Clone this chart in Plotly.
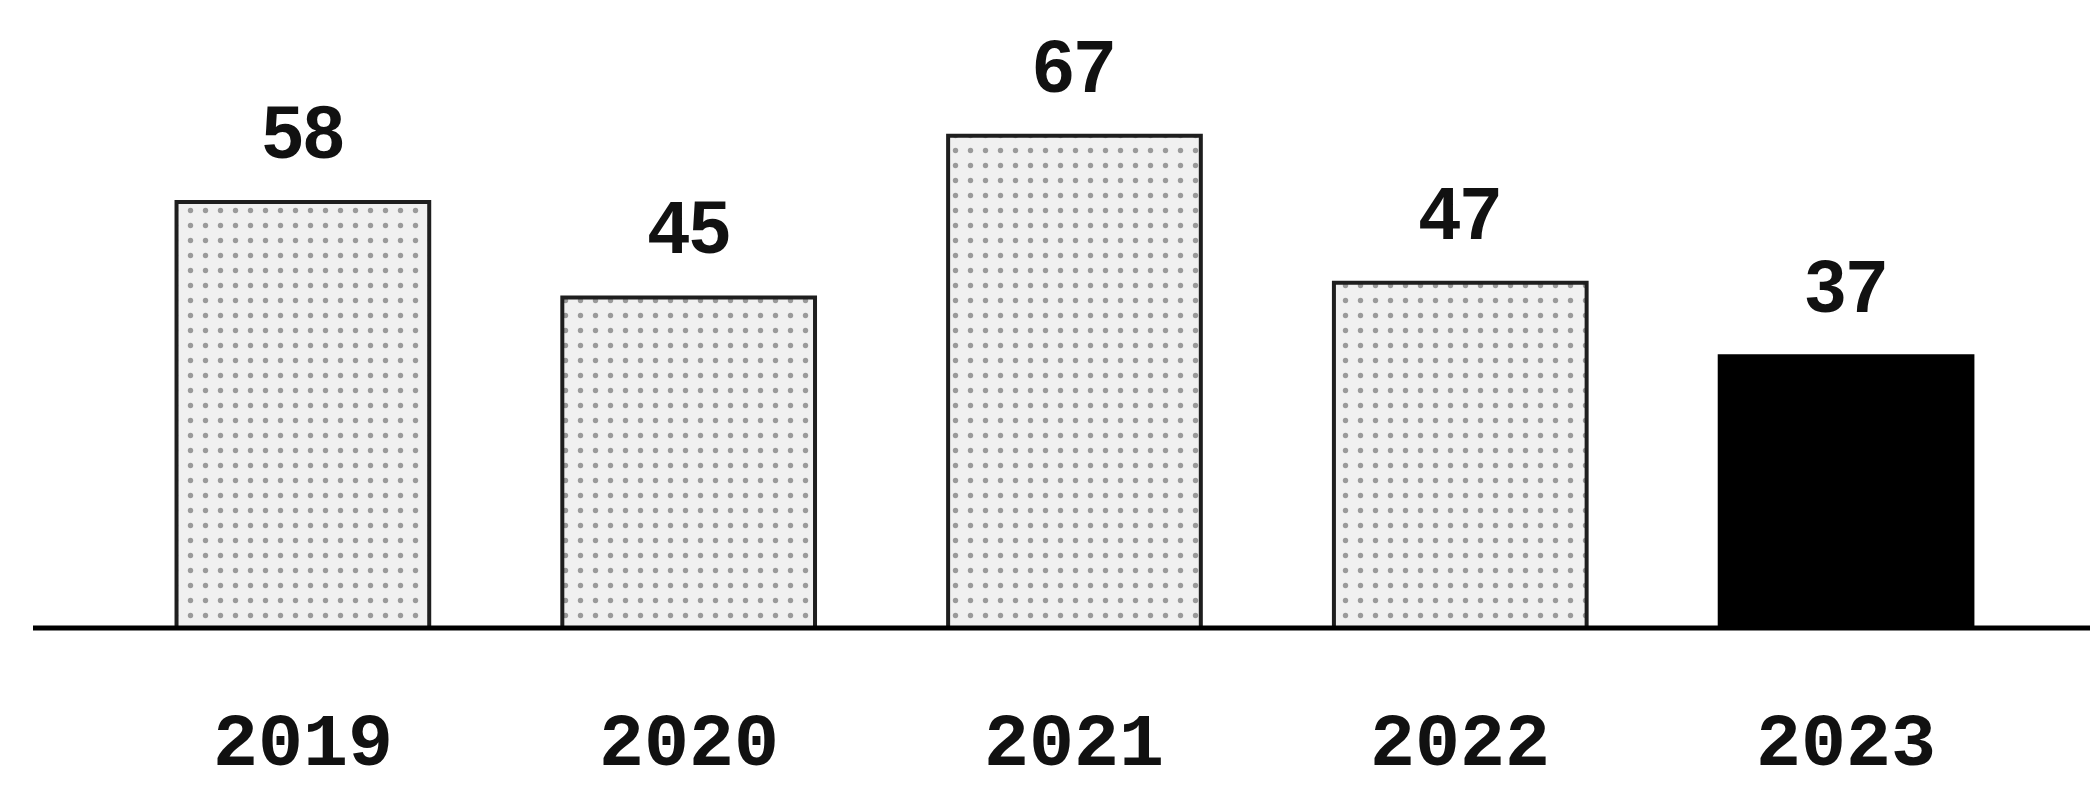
import plotly.graph_objects as go

years = ["2019", "2020", "2021", "2022", "2023"]
values = [58, 45, 67, 47, 37]
value_labels = ["58", "45", "67", "47", "37"]

fill_colors = ["#f0f0f0", "#f0f0f0", "#f0f0f0", "#f0f0f0", "#000000"]
pattern_shapes = [".", ".", ".", ".", ""]
line_colors = ["#1e1e1e", "#1e1e1e", "#1e1e1e", "#1e1e1e", "#000000"]

fig = go.Figure()
fig.add_trace(go.Bar(
    x=list(range(len(years))),
    y=values,
    width=0.655,
    marker=dict(
        color=fill_colors,
        line=dict(color=line_colors, width=4),
        pattern=dict(shape=pattern_shapes, fgcolor="#666666", size=15, solidity=0.1),
    ),
    hoverinfo="skip",
))

annotations = []
for i, (v, lab) in enumerate(zip(values, value_labels)):
    annotations.append(dict(
        x=i, y=v, xref="x", yref="y", text=lab, showarrow=False,
        yanchor="bottom", yshift=26,
        font=dict(family="Liberation Sans", size=74, color="#111111", weight="bold"),
    ))
for i, yr in enumerate(years):
    annotations.append(dict(
        x=i, y=0, xref="x", yref="y", text=yr, showarrow=False,
        yanchor="middle", yshift=-117,
        font=dict(family="Liberation Mono", size=75, color="#111111", weight="bold"),
    ))

fig.update_layout(
    width=2090, height=779,
    margin=dict(l=25, r=0, t=0, b=159),
    paper_bgcolor="white", plot_bgcolor="white",
    showlegend=False,
    annotations=annotations,
    shapes=[dict(type="line", xref="paper", yref="paper", x0=0, x1=1, y0=0, y1=0,
                 line=dict(color="black", width=5), layer="above")],
    xaxis=dict(range=[-0.6995, 4.653], showticklabels=False, showgrid=False,
               zeroline=False, showline=False, ticks=""),
    yaxis=dict(range=[0, 84.4], showticklabels=False, showgrid=False,
               zeroline=False, showline=False, ticks=""),
)

fig.write_html("out.html")
